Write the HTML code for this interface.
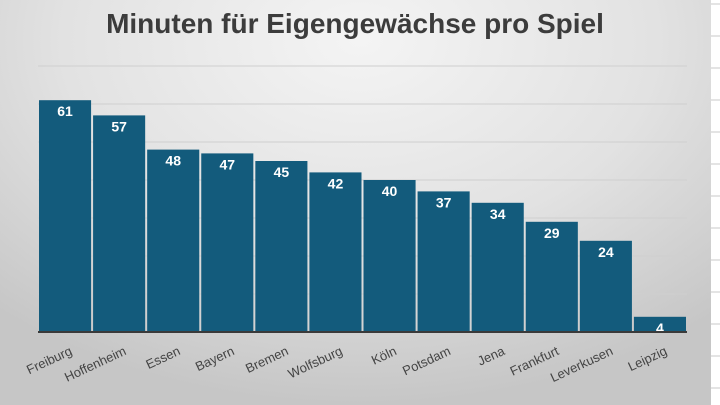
<!DOCTYPE html>
<html><head><meta charset="utf-8"><style>
html,body{margin:0;padding:0;width:720px;height:405px;overflow:hidden}
body{background:radial-gradient(ellipse 75% 90% at 50% 10%,#f4f4f4 0%,#e2e2e2 55%,#c6c6c6 100%);font-family:"Liberation Sans",sans-serif}
</style></head><body>
<svg id="chart" width="720" height="405" style="position:absolute;left:0;top:0">
<rect x="711" y="0" width="9" height="405" fill="#fff"/>
<g id="strip"></g>
<text x="355" y="33" text-anchor="middle" font-size="28" font-weight="bold" fill="#3c3c3c">Minuten für Eigengewächse pro Spiel</text>
<g id="grid"></g><g id="bars"></g><g id="labels"></g>
</svg>
<script>
const categories=["Freiburg","Hoffenheim","Essen","Bayern","Bremen","Wolfsburg","Köln","Potsdam","Jena","Frankfurt","Leverkusen","Leipzig"];
const values=[61,57,48,47,45,42,40,37,34,29,24,4];
const gridTicks=[10,20,30,40,50,60,70];
const NS="http://www.w3.org/2000/svg";
const x0=38,x1=687,y0=332,pxPer=3.8;
const bw=(x1-x0)/categories.length;
const y=v=>y0-v*pxPer;
const xs=i=>x0+i*bw;
function mk(t,a,p){const e=document.createElementNS(NS,t);for(const k in a)e.setAttribute(k,a[k]);p.appendChild(e);return e;}
const strip=document.getElementById('strip');
for(let yy=4;yy<405;yy+=32){const l=mk('line',{x1:711,x2:720,y1:yy,y2:yy,stroke:'#c8c8c8','stroke-width':1},strip);

}
const grid=document.getElementById('grid');
gridTicks.forEach(t=>{const l=mk('line',{x1:x0,x2:x1,y1:y(t),y2:y(t),stroke:'#cfcfcf','stroke-width':1},grid);

});
const bars=document.getElementById('bars');
values.forEach((v,i)=>{
const r=mk('rect',{x:xs(i)+1,y:y(v),width:bw-2,height:y0-y(v),fill:'#135b7c'},bars);


const t=mk('text',{x:xs(i)+bw/2,y:y(v)+16,'text-anchor':'middle','font-size':14,'font-weight':'bold',fill:'#fff'},bars);
t.textContent=v;


});
const base=mk('line',{x1:x0,x2:x1,y1:y0,y2:y0,stroke:'#3a3a3a','stroke-width':2},bars);


const labels=document.getElementById('labels');
categories.forEach((c,i)=>{
const cx=xs(i)+bw/2+8,cy=354;
const t=mk('text',{x:cx,y:cy,'text-anchor':'end','font-size':13,fill:'#444',transform:`rotate(-25 ${cx} ${cy})`},labels);
t.textContent=c;


});
</script>
</body></html>
